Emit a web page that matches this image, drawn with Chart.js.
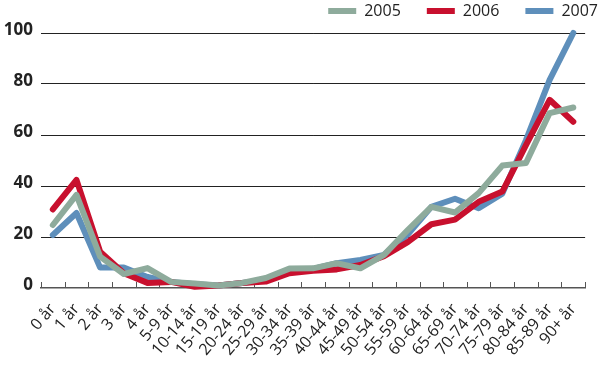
<!DOCTYPE html>
<html lang="no">
<head>
    <meta charset="UTF-8">
    <title>Aldersfordeling 2005-2007</title>
    <script src="https://cdn.jsdelivr.net/npm/chart.js"></script>
    <style>
        body {
            margin: 0;
            padding: 0;
            background: #fff;
        }
        .chart-box {
            width: 600px;
            height: 372px;
        }
    </style>
</head>
<body>
    <div class="chart-box">
        <canvas id="ageChart"></canvas>
    </div>

    <script>
        // Age groups along the x axis
        const ageGroups = ['0 år', '1 år', '2 år', '3 år', '4 år', '5-9 år', '10-14 år', '15-19 år',
            '20-24 år', '25-29 år', '30-34 år', '35-39 år', '40-44 år', '45-49 år', '50-54 år',
            '55-59 år', '60-64 år', '65-69 år', '70-74 år', '75-79 år', '80-84 år', '85-89 år', '90+ år'];

        // Values
        const values2005 = [24.7, 36.5, 12.3, 5.5, 7.8, 2.4, 1.8, 1.0, 2.0, 3.9, 7.6, 7.7, 9.7, 7.7, 13.0,
            22.7, 31.8, 29.6, 37.2, 48.0, 49.0, 68.6, 70.8];
        const values2006 = [30.8, 42.4, 14.2, 5.8, 2.0, 2.4, 0.5, 1.0, 2.0, 2.5, 5.8, 6.8, 7.3, 9.0, 12.5,
            18.0, 25.0, 26.8, 33.8, 37.8, 56.0, 73.8, 65.2];
        const values2007 = [20.8, 29.4, 8.0, 8.0, 4.3, 2.4, 1.5, 1.0, 2.0, 3.0, 6.5, 7.5, 9.7, 11.0, 13.0,
            21.0, 31.8, 35.0, 31.3, 37.0, 58.0, 81.6, 100.0];

        const yTicks = [0, 20, 40, 60, 80, 100];

        // Short tick marks pointing up from the x axis, one at every category boundary
        const upTicks = {
            id: 'upTicks',
            beforeDatasetsDraw(chart) {
                const xs = chart.scales.x;
                const ctx = chart.ctx;
                const step = (xs.right - xs.left) / ageGroups.length;
                ctx.save();
                ctx.strokeStyle = '#555';
                ctx.lineWidth = 1;
                for (let i = 0; i <= ageGroups.length; i++) {
                    const px = Math.round(xs.getPixelForValue(i) - step / 2) + 0.5;
                    ctx.beginPath();
                    ctx.moveTo(px, xs.top);
                    ctx.lineTo(px, xs.top - 6);
                    ctx.stroke();
                }
                ctx.restore();
            }
        };

        // Move the legend up into the top right corner
        // (only top moves, the legend clips its drawing to its own box)
        const legendShift = {
            id: 'legendShift',
            afterLayout(chart) {
                chart.legend.top -= 23;
                chart.legend.left += 24;
                chart.legend.right += 24;
            }
        };

        function makeLine(label, data, color) {
            return {
                label: label,
                data: data,
                borderColor: color,
                backgroundColor: color,
                borderWidth: 6,
                borderCapStyle: 'round',
                borderJoinStyle: 'round',
                pointRadius: 0,
                tension: 0,
                clip: false
            };
        }

        const ctx = document.getElementById('ageChart').getContext('2d');
        new Chart(ctx, {
            type: 'line',
            data: {
                labels: ageGroups,
                datasets: [
                    makeLine('2005', values2005, '#8eab9c'),
                    makeLine('2006', values2006, '#c8102e'),
                    makeLine('2007', values2007, '#5e8fbb')
                ]
            },
            options: {
                responsive: true,
                maintainAspectRatio: false,
                animation: false,
                layout: { padding: 0 },
                plugins: {
                    tooltip: { enabled: false },
                    legend: {
                        position: 'top',
                        align: 'end',
                        maxHeight: 33,
                        labels: {
                            usePointStyle: true,
                            pointStyle: 'line',
                            pointStyleWidth: 28,
                            padding: 26,
                            color: '#222',
                            font: { family: 'Open Sans', size: 16 }
                        }
                    }
                },
                scales: {
                    x: {
                        offset: true,
                        grid: { display: false, drawTicks: false },
                        border: { display: true, color: '#555', width: 1.5 },
                        ticks: {
                            autoSkip: false,
                            minRotation: 50,
                            maxRotation: 50,
                            padding: 12,
                            color: '#222',
                            font: { family: 'Open Sans', size: 16 }
                        },
                        afterFit(scale) { scale.height = 84; }
                    },
                    y: {
                        min: 0,
                        max: 100,
                        afterBuildTicks(scale) {
                            scale.ticks = yTicks.map(v => ({ value: v }));
                        },
                        grid: {
                            drawTicks: false,
                            color: c => (c.tick && c.tick.value === 0) ? 'rgba(0,0,0,0)' : '#222',
                            lineWidth: 1
                        },
                        border: { display: false },
                        ticks: {
                            padding: 8,
                            labelOffset: -3,
                            color: '#222',
                            font: { family: 'Open Sans', size: 17, weight: 'bold' }
                        },
                        afterFit(scale) { scale.width = 41; }
                    }
                }
            },
            plugins: [upTicks, legendShift]
        });
    </script>
</body>
</html>
